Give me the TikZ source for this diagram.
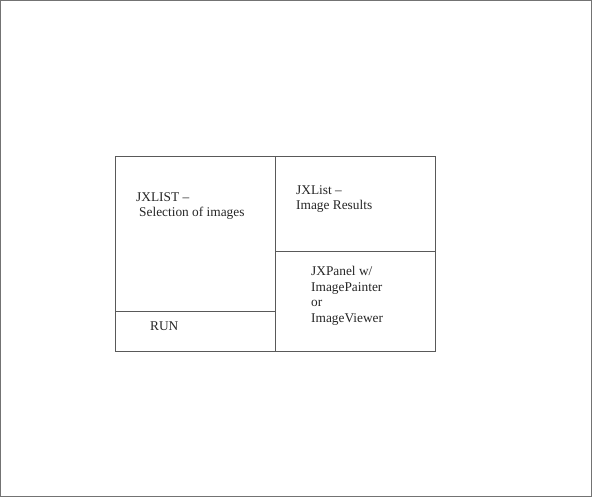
\documentclass[tikz,border=0pt]{standalone}
\usepackage{fontspec}
\setmainfont{Liberation Serif}
\begin{document}
\begin{tikzpicture}[x=1bp,y=-1bp,
  frame/.style={draw=black!65,line width=0.9bp},
  label/.style={anchor=north west,inner sep=0pt,align=left,
    font=\fontsize{13.4}{15.6}\selectfont,text=black!85}]
\useasboundingbox (0,0) rectangle (592,497);
\draw[draw=black!55,line width=0.8bp] (0.5,0.5) rectangle (591.5,496.5);
% panels
\node[frame,minimum width=160bp,minimum height=155bp,inner sep=0pt,anchor=north west] (sel) at (115,156) {};
\node[frame,minimum width=160bp,minimum height=39.5bp,inner sep=0pt,anchor=north west] (run) at (115,311) {};
\node[frame,minimum width=160bp,minimum height=95bp,inner sep=0pt,anchor=north west] (res) at (275,156) {};
\node[frame,minimum width=160bp,minimum height=99.5bp,inner sep=0pt,anchor=north west] (pan) at (275,251) {};
% labels
\node[label] (t1) at (136,192) {JXLIST –\\[0pt]\hspace*{3bp}Selection of images};
\node[label] (t2) at (296,185) {JXList –\\Image Results};
\node[label] (t3) at (311,266) {JXPanel w/\\ImagePainter\\or\\ImageViewer};
\node[label] (t4) at (150,322) {RUN};
\end{tikzpicture}
\end{document}
